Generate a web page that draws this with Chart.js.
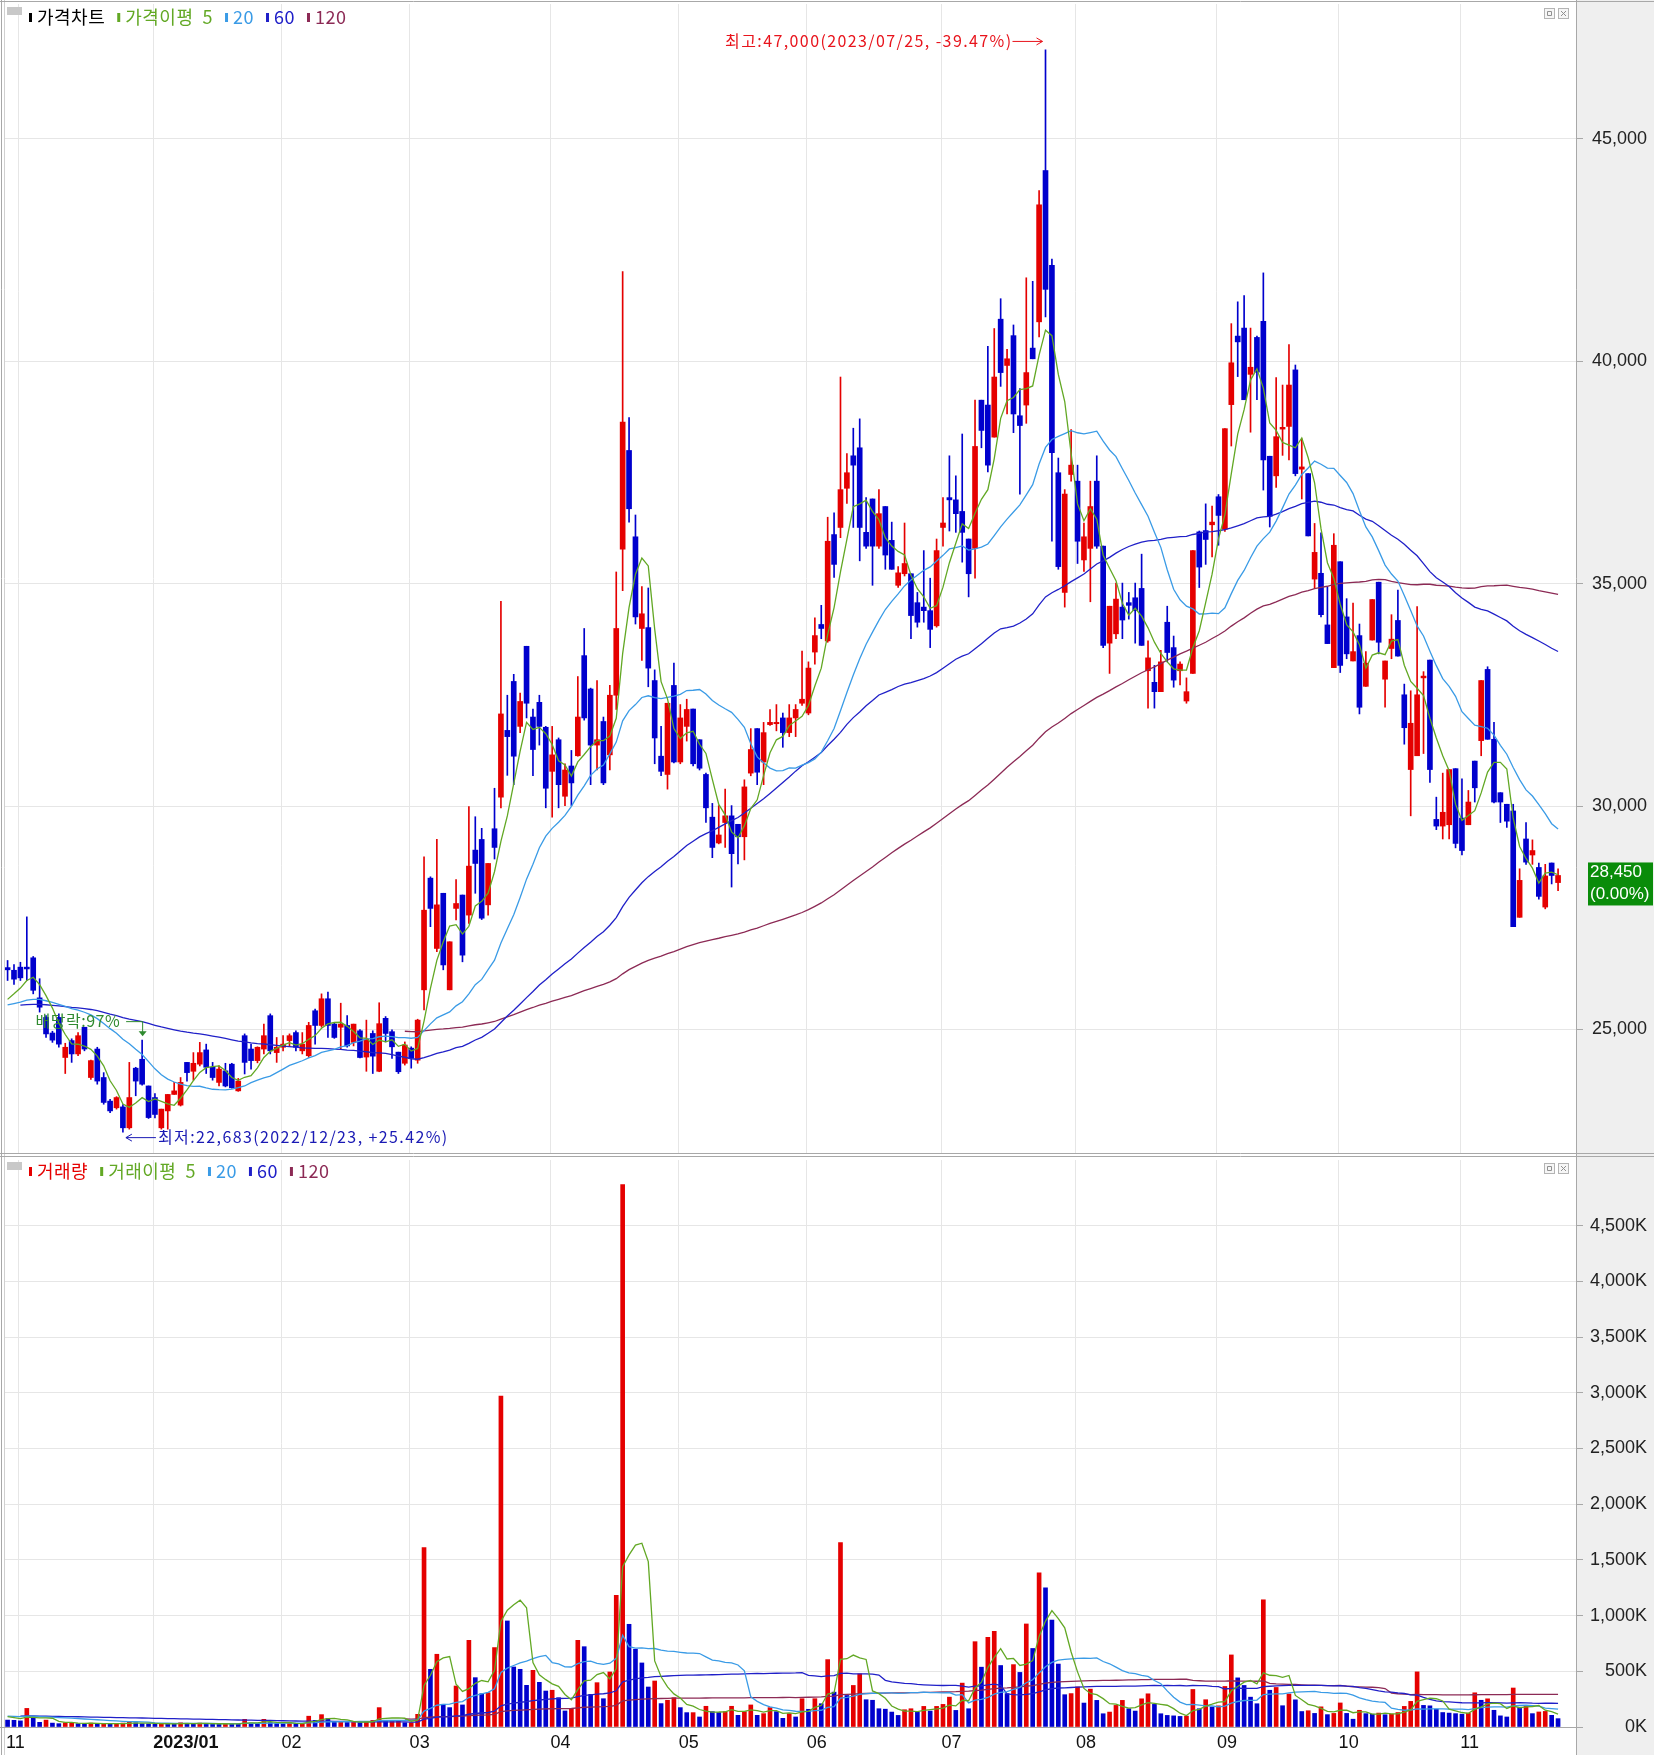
<!DOCTYPE html>
<html>
<head>
<meta charset="utf-8">
<script src="https://cdn.jsdelivr.net/npm/chart.js@4.4.1/dist/chart.umd.min.js"></script>
<style>
  html, body { margin: 0; padding: 0; background: #fff; }
  #wrap { position: relative; width: 1654px; height: 1755px; overflow: hidden; }
  #price { position: absolute; left: 0; top: 0; }
  #volume { position: absolute; left: 0; top: 1157px; }
</style>
</head>
<body>
<div id="wrap">
  <canvas id="price" width="1654" height="1157"></canvas>
  <canvas id="volume" width="1654" height="598"></canvas>
</div>
<script>
// trading calendar shown on the chart
const months = ['2022/11', '2022/12', '2023/01', '2023/02', '2023/03', '2023/04', '2023/05',
  '2023/06', '2023/07', '2023/08', '2023/09', '2023/10', '2023/11']
const tradingDays = [
  [29, 30],
  [1, 2, 5, 6, 7, 8, 9, 12, 13, 14, 15, 16, 19, 20, 21, 22, 23, 26, 27, 28, 29],
  [2, 3, 4, 5, 6, 9, 10, 11, 12, 13, 16, 17, 18, 19, 20, 25, 26, 27, 30, 31],
  [1, 2, 3, 6, 7, 8, 9, 10, 13, 14, 15, 16, 17, 20, 21, 22, 23, 24, 27, 28],
  [2, 3, 6, 7, 8, 9, 10, 13, 14, 15, 16, 17, 20, 21, 22, 23, 24, 27, 28, 29, 30, 31],
  [3, 4, 5, 6, 7, 10, 11, 12, 13, 14, 17, 18, 19, 20, 21, 24, 25, 26, 27, 28],
  [2, 3, 4, 8, 9, 10, 11, 12, 15, 16, 17, 18, 19, 22, 23, 24, 25, 26, 30, 31],
  [1, 2, 5, 7, 8, 9, 12, 13, 14, 15, 16, 19, 20, 21, 22, 23, 26, 27, 28, 29, 30],
  [3, 4, 5, 6, 7, 10, 11, 12, 13, 14, 17, 18, 19, 20, 21, 24, 25, 26, 27, 28, 31],
  [1, 2, 3, 4, 7, 8, 9, 10, 11, 14, 16, 17, 18, 21, 22, 23, 24, 25, 28, 29, 30, 31],
  [1, 4, 5, 6, 7, 8, 11, 12, 13, 14, 15, 18, 19, 20, 21, 22, 25, 26, 27],
  [4, 5, 6, 10, 11, 12, 13, 16, 17, 18, 19, 20, 23, 24, 25, 26, 27, 30, 31],
  [1, 2, 3, 6, 7, 8, 9, 10, 13, 14, 15, 16, 17, 20, 21, 22]
]
const monthLabels = ['11', '', '2023/01', '02', '03', '04', '05', '06', '07', '08', '09', '10', '11']

const opens = [
  26380, 26320, 26390, 26390, 26600, 25700, 25260, 24910, 25260, 24360,
  24740, 24440, 25040, 23910, 24550, 23910, 23380, 23230, 23250, 22780,
  24120, 24320, 23720, 23460, 22780, 23160, 23530, 23290, 24250, 24050,
  24210, 24530, 24140, 23800, 24060, 24210, 23610, 24850, 24550, 24290,
  24550, 25300, 24470, 24590, 24740, 24920, 24510, 24400, 25410, 25080,
  25680, 25110, 25040, 25080, 24700, 24960, 24370, 24900, 24050, 25240,
  24940, 24480, 24230, 24570, 24300, 25880, 28390, 26810, 28050, 25880,
  27710, 28010, 27560, 29020, 29260, 27790, 29500, 30210, 31710, 32810,
  31800, 33600, 32010, 32340, 31780, 30790, 31500, 30230, 30910, 31140,
  33390, 32640, 31380, 31910, 31160, 32500, 35780, 38000, 36060, 34000,
  34020, 32830, 31130, 30720, 32720, 31000, 31800, 32190, 31500, 30720,
  29760, 29180, 29640, 29790, 29600, 29320, 30750, 31750, 31000, 31840,
  31860, 31990, 31660, 31990, 32320, 32100, 33470, 34090, 33720, 36110,
  36270, 37150, 37880, 38060, 36160, 36910, 35850, 36740, 35980, 34970,
  35230, 35230, 34580, 34480, 34400, 34060, 36270, 36940, 36890, 36630,
  36010, 35800, 39130, 39020, 38300, 40950, 39910, 40580, 38780, 39020,
  40300, 40890, 44290, 42160, 37500, 34810, 37460, 37310, 35540, 35800,
  37310, 35850, 33670, 33880, 34480, 34580, 34690, 34900, 33050, 32790,
  32580, 34140, 33570, 33050, 32370, 32990, 36170, 36200, 36330, 36960,
  36230, 39030, 40570, 40750, 39710, 40540, 40900, 37870, 37430, 38480,
  38540, 39810, 37580, 37480, 35110, 35240, 34080, 33120, 35500, 34260,
  33270, 33840, 32700, 33740, 35040, 32860, 33550, 34180, 32510, 30830,
  31140, 32890, 33290, 29710, 29560, 29590, 30850, 29740, 29590, 31020,
  31480, 33080, 31510, 30310, 30050, 29900, 27510, 29270, 28910, 28630,
  27740, 28730, 28290
]
const highs = [
  26540, 26450, 26500, 27520, 26630, 26130, 25300, 24950, 25340, 24680,
  24780, 24920, 25040, 24300, 24590, 24020, 23420, 23480, 23300, 24250,
  24140, 24750, 23720, 23550, 23200, 23530, 23800, 23910, 24250, 24470,
  24700, 24660, 24250, 24170, 24230, 24230, 23890, 24890, 24660, 24600,
  25110, 25340, 24810, 24850, 24890, 24960, 24920, 25150, 25450, 25790,
  25830, 25150, 25580, 25300, 25110, 24990, 25200, 24960, 25590, 25280,
  24980, 24480, 24710, 24600, 25220, 28870, 28420, 29260, 28050, 26960,
  28360, 28010, 30000, 29770, 29510, 28720, 30410, 34610, 32500, 32970,
  32550, 33600, 32190, 32500, 31800, 31800, 31540, 30960, 31260, 32920,
  34000, 32660, 32830, 32010, 32720, 35270, 42020, 38740, 36550, 34940,
  34910, 33070, 31800, 32320, 33220, 32290, 32410, 32190, 31500, 30750,
  30070, 30020, 30390, 30020, 29600, 30600, 31750, 31750, 31890, 32180,
  32290, 32100, 32290, 32290, 33490, 33250, 34240, 34520, 36500, 36600,
  39650, 37930, 38500, 38710, 36940, 36910, 37120, 36740, 36390, 35390,
  36370, 35230, 34810, 35750, 35130, 36010, 36940, 37880, 37430, 38370,
  36010, 39130, 39130, 40340, 40740, 41410, 40270, 40820, 39390, 41880,
  41800, 43840, 47000, 42300, 37830, 37120, 38470, 37670, 36370, 37310,
  37880, 35850, 34500, 35020, 35020, 34810, 35020, 35670, 33720, 33170,
  33510, 34500, 33830, 33250, 32890, 35750, 36190, 36800, 36750, 37010,
  38490, 40850, 41340, 41480, 40750, 40570, 41990, 37870, 39640, 39470,
  40380, 39920, 38260, 37480, 36360, 36150, 34930, 36130, 35500, 34670,
  34570, 34100, 33480, 34650, 35040, 33270, 34310, 34860, 32750, 32600,
  34490, 33030, 33290, 30210, 30750, 30830, 30850, 30620, 30360, 31020,
  32830, 33140, 31890, 30310, 30050, 30050, 28600, 29640, 29250, 28730,
  28700, 28730, 28600
]
const lows = [
  26090, 26000, 26090, 26090, 25790, 25380, 24810, 24700, 24590, 24000,
  24250, 24400, 24510, 23870, 23760, 23310, 23120, 23200, 22683, 22750,
  23500, 23740, 22990, 23000, 22750, 22750, 23530, 23270, 23830, 23850,
  24170, 24000, 23850, 23720, 23700, 23670, 23600, 23990, 24100, 24240,
  24440, 24440, 24250, 24510, 24620, 24510, 24440, 24360, 24660, 25040,
  24810, 24790, 24550, 24590, 24620, 24350, 24050, 24000, 24040, 24710,
  24340, 24000, 24190, 24120, 24230, 25430, 27300, 26740, 26330, 25880,
  27450, 26510, 27370, 28050, 27460, 27560, 28820, 29970, 30700, 30490,
  31660, 31990, 30690, 31380, 29970, 29760, 29970, 30020, 30020, 31130,
  31940, 30490, 30820, 30490, 30820, 32180, 34850, 36390, 34100, 33280,
  32690, 30960, 30690, 30390, 30980, 30960, 31470, 30910, 30820, 29640,
  28850, 29160, 29080, 28190, 28710, 28800, 30690, 30490, 30490, 31820,
  31700, 31330, 31570, 31570, 32270, 32060, 33200, 33770, 33690, 35150,
  36040, 36810, 36270, 35520, 35800, 34970, 35800, 35330, 35330, 34920,
  35180, 33770, 34030, 34140, 33570, 34030, 35850, 36190, 36160, 35490,
  34710, 35130, 38060, 37520, 38300, 39440, 38820, 38400, 37020, 38610,
  40060, 40550, 41000, 35960, 35330, 34480, 37310, 35460, 35280, 34600,
  35800, 33570, 32990, 33770, 33770, 34210, 33670, 33620, 32210, 32210,
  32580, 33250, 32680, 32730, 32320, 32990, 34920, 35440, 35610, 35870,
  36180, 38100, 39660, 39140, 38410, 39140, 37110, 36280, 37170, 37890,
  37790, 37430, 36910, 36080, 34900, 34260, 33660, 33120, 33010, 33320,
  33270, 32080, 32700, 33740, 33430, 32230, 33320, 33380, 31400, 29790,
  31140, 31190, 30540, 29480, 29270, 29270, 29070, 28910, 29590, 30100,
  31140, 31510, 30080, 29640, 29530, 27300, 27510, 28700, 28700, 27920,
  27700, 28260, 28110
]
const closes = [
  26330, 26120, 26150, 26350, 25870, 25490, 24890, 24750, 24660, 24590,
  24440, 24850, 24550, 24290, 23830, 23350, 23160, 23460, 22780, 23460,
  23830, 23760, 23010, 23080, 23200, 23530, 23610, 23800, 24020, 24230,
  24470, 24140, 23910, 24100, 23720, 23680, 23830, 24250, 24290, 24590,
  24850, 24510, 24590, 24660, 24850, 24590, 24660, 25080, 25080, 25680,
  25080, 24810, 25110, 24620, 25110, 24360, 24780, 24390, 25120, 24900,
  24600, 24040, 24640, 24340, 25200, 27670, 27710, 27790, 26440, 26960,
  27820, 26660, 28660, 28720, 27490, 28720, 29080, 32080, 31570, 31130,
  32360, 32320, 31280, 31800, 30410, 31160, 30490, 30820, 30530, 32010,
  31990, 31380, 31500, 30530, 32500, 34000, 38640, 36690, 34260, 34330,
  33110, 31540, 30790, 32320, 31000, 31990, 32180, 30960, 30860, 29970,
  29080, 29360, 29790, 28940, 29320, 30440, 31280, 30770, 31660, 31890,
  31890, 31660, 31990, 32180, 32410, 33110, 33840, 34000, 35960, 35440,
  37120, 37500, 37670, 36270, 35850, 35850, 36580, 35650, 35330, 35250,
  35460, 34290, 34140, 34400, 33980, 35750, 36370, 36890, 36580, 36160,
  35230, 38090, 38450, 37670, 39650, 39750, 40060, 38820, 38560, 39750,
  40060, 43520, 41620, 37950, 35390, 37020, 37670, 35960, 36060, 36740,
  35850, 33620, 34500, 34660, 34190, 34520, 34400, 33620, 33340, 32580,
  33250, 33460, 32840, 33200, 32580, 35750, 35380, 36000, 36390, 36540,
  38490, 39970, 40440, 39140, 39870, 39760, 37790, 36520, 38310, 38520,
  39470, 37480, 37630, 36080, 35710, 34310, 33660, 35870, 33170, 33430,
  33480, 32230, 33220, 34650, 33690, 33270, 33760, 33380, 31770, 31870,
  32510, 32930, 30830, 29560, 29870, 30830, 29170, 29010, 30100, 30420,
  32830, 31510, 30100, 30100, 29670, 27300, 28340, 28750, 29010, 27980,
  28440, 28450, 28450
]
// volume in thousands of shares
const volumes = [
  62, 60, 55, 167, 87, 42, 62, 35, 30, 38,
  40, 30, 28, 35, 30, 32, 25, 30, 35, 45,
  38, 30, 28, 25, 32, 30, 28, 38, 30, 28,
  35, 30, 28, 25, 30, 28, 26, 69, 35, 30,
  69, 40, 30, 28, 35, 30, 32, 97, 60, 111,
  76, 45, 50, 40, 45, 40, 50, 60, 174, 60,
  60, 60, 39, 39, 114, 1611, 518, 653, 204, 174,
  368, 198, 778, 443, 299, 308, 713, 2971, 952, 539,
  518, 374, 509, 401, 323, 330, 263, 144, 165, 778,
  721, 293, 398, 254, 494, 1183, 4870, 922, 698, 575,
  359, 413, 210, 240, 263, 174, 129, 129, 90, 186,
  138, 130, 138, 186, 105, 138, 198, 105, 120, 174,
  138, 78, 120, 90, 254, 159, 254, 209, 605, 313,
  1655, 283, 373, 477, 245, 240, 164, 160, 134, 104,
  155, 164, 134, 185, 143, 185, 203, 268, 149, 394,
  164, 766, 537, 805, 859, 552, 300, 560, 490, 925,
  705, 1385, 1250, 960, 565, 290, 300, 360, 215, 340,
  239, 119, 134, 194, 239, 164, 143, 253, 298, 203,
  119, 104, 100, 95, 98, 337, 164, 245, 179, 190,
  364, 647, 441, 373, 268, 209, 1142, 330, 355, 191,
  296, 244, 139, 146, 122, 181, 111, 122, 216, 122,
  70, 150, 120, 115, 125, 110, 115, 130, 185, 230,
  495, 194, 190, 160, 130, 125, 120, 115, 125, 307,
  240, 253, 150, 100, 90, 350, 175, 185, 120, 135,
  140, 105, 75
]
const priceTicks = [25000, 30000, 35000, 40000, 45000]
const volumeTicks = [0, 500, 1000, 1500, 2000, 2500, 3000, 3500, 4000, 4500]
const maPeriods = [5, 20, 60, 120]
const dividendDate = '2022/12/28'
const dividendText = '배당락:97%'

// history before the first visible day (only feeds the moving averages)
const priorDays = 57
const priorClose = 25500
const priorVolume = 100

const UP = '#e50000'
const DOWN = '#0000cd'
const maColors = ['#62a824', '#3a9be6', '#2020c8', '#8c2a55']

const dates = months.flatMap((m, k) => tradingDays[k].map(d => m + '/' + String(d).padStart(2, '0')))
const n = closes.length
let monthStarts = []
let pos = 0
tradingDays.forEach(days => { monthStarts.push(pos); pos += days.length })

function movingAverage(values, len, prior) {
  const full = new Array(priorDays).fill(prior).concat(values)
  return values.map((_, i) => {
    const end = i + priorDays
    if (end + 1 < len) return null
    let s = 0
    for (let k = end - len + 1; k <= end; k++) s += full[k]
    return s / len
  })
}

const fmt = v => v.toLocaleString('en-US')
const candleColor = closes.map((c, i) => c >= opens[i] ? UP : DOWN)
const volColor = volumes.map((v, i) => i > 0 && v >= volumes[i - 1] ? UP : DOWN)

const X_MIN = -0.56
const X_MAX = 244.8

function monthTickBuilder(scale) {
  scale.ticks = monthStarts.map(i => ({ value: i - 0.25 }))
}
function noPad(scale) {
  scale.paddingTop = 0; scale.paddingBottom = 0; scale.paddingLeft = 0; scale.paddingRight = 0
}

function maDatasets(values, prior) {
  return maPeriods.map((p, k) => {
    const ma = movingAverage(values, p, prior)
    return {
      type: 'line',
      data: ma.map((y, i) => ({ x: i, y: y })),
      borderColor: maColors[k],
      borderWidth: 1.3,
      pointRadius: 0,
      tension: 0,
      order: 0
    }
  })
}

const framePlugin = {
  id: 'frame',
  beforeDraw(chart) {
    const { ctx, chartArea, width, height } = chart
    ctx.save()
    ctx.fillStyle = '#ffffff'
    ctx.fillRect(0, 0, width, height)
    ctx.fillStyle = '#efefef'
    ctx.fillRect(chartArea.right, 0, width - chartArea.right, height)
    ctx.restore()
  },
  afterDraw(chart) {
    const { ctx, chartArea, width, height } = chart
    ctx.save()
    ctx.lineWidth = 1
    ctx.strokeStyle = '#a8a8a8'
    ctx.beginPath()
    ctx.moveTo(chartArea.right + 0.5, 0); ctx.lineTo(chartArea.right + 0.5, height)
    ctx.moveTo(1.5, 0); ctx.lineTo(1.5, height)
    ctx.stroke()
    ctx.strokeStyle = '#d0d0d0'
    ctx.beginPath()
    ctx.moveTo(4.5, 0); ctx.lineTo(4.5, height)
    ctx.stroke()
    ctx.strokeStyle = '#a8a8a8'
    ctx.beginPath()
    if (chart.canvas.id === 'price') {
      ctx.moveTo(0, 1.5); ctx.lineTo(width, 1.5)
      ctx.moveTo(0, height - 3.5); ctx.lineTo(width, height - 3.5)
      ctx.moveTo(0, height - 0.5); ctx.lineTo(width, height - 0.5)
    } else {
      ctx.moveTo(0, chartArea.bottom + 0.5); ctx.lineTo(chartArea.right, chartArea.bottom + 0.5)
    }
    ctx.stroke()
    // little window buttons at the top right of the panel
    const by = chart.canvas.id === 'price' ? 8 : 6
    ;[chartArea.right - 32, chartArea.right - 18].forEach((bx, k) => {
      ctx.fillStyle = '#f6f6f6'
      ctx.fillRect(bx, by, 11, 11)
      ctx.strokeStyle = '#b4b4b4'
      ctx.strokeRect(bx + 0.5, by + 0.5, 10, 10)
      ctx.strokeStyle = '#909090'
      ctx.beginPath()
      if (k === 0) {
        ctx.rect(bx + 3.5, by + 3.5, 4, 4)
      } else {
        ctx.moveTo(bx + 3, by + 3); ctx.lineTo(bx + 8, by + 8)
        ctx.moveTo(bx + 8, by + 3); ctx.lineTo(bx + 3, by + 8)
      }
      ctx.stroke()
    })
    // grey box at the top left
    ctx.fillStyle = '#c8c8c8'
    ctx.fillRect(7, by - 1, 15, 8)
    ctx.restore()
  }
}

function drawLegend(ctx, y, items) {
  ctx.save()
  ctx.font = '18px "Noto Sans CJK KR"'
  ctx.textBaseline = 'middle'
  ctx.textAlign = 'left'
  ctx.letterSpacing = '0.5px'
  let x = 29
  items.forEach(it => {
    ctx.fillStyle = it.bar
    ctx.fillRect(x, y - 4, 3, 9)
    x += 8
    ctx.fillStyle = it.color
    ctx.fillText(it.text, x, y)
    x += ctx.measureText(it.text).width + 12
  })
  ctx.restore()
}

function arrowLine(ctx, x1, x2, y, color) {
  ctx.strokeStyle = color
  ctx.lineWidth = 1
  ctx.beginPath()
  ctx.moveTo(x1, y + 0.5); ctx.lineTo(x2, y + 0.5)
  const d = x2 > x1 ? -1 : 1
  ctx.moveTo(x2, y + 0.5); ctx.lineTo(x2 + d * 6, y - 3)
  ctx.moveTo(x2, y + 0.5); ctx.lineTo(x2 + d * 6, y + 4)
  ctx.stroke()
}

const priceDecor = {
  id: 'priceDecor',
  afterDatasetsDraw(chart) {
    const { ctx } = chart
    const xs = chart.scales.x, ys = chart.scales.y
    const last = closes[n - 1]
    ctx.save()
    ctx.font = '16px "Noto Sans CJK KR"'
    ctx.letterSpacing = '1.4px'
    ctx.textBaseline = 'middle'

    // highest point
    const hiVal = Math.max(...highs)
    const hi = highs.indexOf(hiVal)
    const hx = xs.getPixelForValue(hi), hy = ys.getPixelForValue(hiVal) - 9
    const hiPct = ((last - hiVal) / hiVal * 100).toFixed(2)
    ctx.fillStyle = '#e8141c'
    ctx.textAlign = 'right'
    ctx.fillText('최고:' + fmt(hiVal) + '(' + dates[hi] + ', ' + hiPct + '%)', hx - 33, hy)
    arrowLine(ctx, hx - 33, hx - 3, hy, '#e8141c')

    // lowest point
    const loVal = Math.min(...lows)
    const lo = lows.indexOf(loVal)
    const lx = xs.getPixelForValue(lo), ly = ys.getPixelForValue(loVal) + 5
    const loPct = ((last - loVal) / loVal * 100).toFixed(2)
    ctx.fillStyle = '#1a1ab4'
    ctx.textAlign = 'left'
    ctx.fillText('최저:' + fmt(loVal) + '(' + dates[lo] + ', +' + loPct + '%)', lx + 35, ly)
    arrowLine(ctx, lx + 33, lx + 3, ly, '#1a1ab4')

    // ex-dividend marker
    const dv = dates.indexOf(dividendDate)
    const dx = xs.getPixelForValue(dv), dTop = ys.getPixelForValue(highs[dv])
    const dy = dTop - 19
    ctx.fillStyle = '#2f8a2f'
    ctx.textAlign = 'right'
    ctx.letterSpacing = '0.5px'
    ctx.fillText(dividendText, dx - 22, dy)
    ctx.strokeStyle = '#2f8a2f'
    ctx.beginPath()
    ctx.moveTo(dx - 16, dy + 0.5); ctx.lineTo(dx + 0.5, dy + 0.5); ctx.lineTo(dx + 0.5, dTop - 5)
    ctx.stroke()
    ctx.fillStyle = '#2f8a2f'
    ctx.beginPath()
    ctx.moveTo(dx - 3.5, dTop - 9); ctx.lineTo(dx + 4.5, dTop - 9); ctx.lineTo(dx + 0.5, dTop - 4)
    ctx.closePath(); ctx.fill()
    ctx.restore()
  },
  afterDraw(chart) {
    const { ctx, chartArea } = chart
    const ys = chart.scales.y
    drawLegend(ctx, 17, [
      { bar: '#000000', color: '#000000', text: '가격차트' },
      { bar: maColors[0], color: maColors[0], text: '가격이평  5' },
      { bar: maColors[1], color: maColors[1], text: '20' },
      { bar: maColors[2], color: maColors[2], text: '60' },
      { bar: maColors[3], color: maColors[3], text: '120' }
    ])
    // current price box
    const last = closes[n - 1], prev = closes[n - 2]
    const pct = ((last - prev) / prev * 100).toFixed(2)
    const yc = ys.getPixelForValue(last)
    ctx.save()
    ctx.fillStyle = '#0a8c0a'
    ctx.fillRect(chartArea.right + 12, yc - 13, 65, 43)
    ctx.fillStyle = '#ffffff'
    ctx.font = '17px "Liberation Sans"'
    ctx.textBaseline = 'middle'
    ctx.textAlign = 'left'
    ctx.fillText(fmt(last), chartArea.right + 14, yc - 3)
    ctx.fillText('(' + pct + '%)', chartArea.right + 14, yc + 19)
    ctx.restore()
  }
}

const volumeDecor = {
  id: 'volumeDecor',
  afterDraw(chart) {
    drawLegend(chart.ctx, 14, [
      { bar: UP, color: UP, text: '거래량' },
      { bar: maColors[0], color: maColors[0], text: '거래이평  5' },
      { bar: maColors[1], color: maColors[1], text: '20' },
      { bar: maColors[2], color: maColors[2], text: '60' },
      { bar: maColors[3], color: maColors[3], text: '120' }
    ])
  }
}

const gridColor = ctx => ctx.index === 0 ? 'rgba(0,0,0,0)' : '#e6e6e6'

new Chart(document.getElementById('price').getContext('2d'), {
  data: {
    datasets: [
      ...maDatasets(closes, priorClose),
      {
        type: 'bar',
        data: closes.map((c, i) => ({ x: i, y: [Math.min(opens[i], c), Math.max(opens[i], c)] })),
        backgroundColor: candleColor,
        barThickness: 5,
        minBarLength: 1,
        grouped: false,
        order: 1
      },
      {
        type: 'bar',
        data: closes.map((c, i) => ({ x: i, y: [lows[i], highs[i]] })),
        backgroundColor: candleColor,
        barThickness: 1,
        grouped: false,
        order: 2
      }
    ]
  },
  options: {
    responsive: false,
    animation: false,
    events: [],
    layout: { padding: { left: 4, top: 4, right: 7, bottom: 4 } },
    plugins: { legend: { display: false }, tooltip: { enabled: false } },
    scales: {
      x: {
        type: 'linear', min: X_MIN, max: X_MAX, offset: false,
        afterBuildTicks: monthTickBuilder,
        afterFit: s => { s.height = 0; noPad(s) },
        ticks: { display: false },
        grid: { color: gridColor, drawTicks: false, offset: false },
        border: { display: false }
      },
      y: {
        position: 'right', min: 22214, max: 48032,
        afterBuildTicks: s => { s.ticks = priceTicks.map(v => ({ value: v })) },
        afterFit: s => { s.width = 71; noPad(s) },
        ticks: {
          callback: v => fmt(v),
          font: { family: 'Liberation Sans', size: 18 },
          color: '#222222', padding: 2, crossAlign: 'far'
        },
        grid: { color: '#e6e6e6', tickLength: 7, tickColor: '#a8a8a8' },
        border: { display: false }
      }
    }
  },
  plugins: [framePlugin, priceDecor]
})

new Chart(document.getElementById('volume').getContext('2d'), {
  data: {
    datasets: [
      ...maDatasets(volumes, priorVolume),
      {
        type: 'bar',
        data: volumes.map((v, i) => ({ x: i, y: v })),
        backgroundColor: volColor,
        barThickness: 4,
        grouped: false,
        order: 1
      }
    ]
  },
  options: {
    responsive: false,
    animation: false,
    events: [],
    layout: { padding: { left: 4, top: 3, right: 7, bottom: 0 } },
    plugins: { legend: { display: false }, tooltip: { enabled: false } },
    scales: {
      x: {
        type: 'linear', min: X_MIN, max: X_MAX, offset: false,
        afterBuildTicks: monthTickBuilder,
        afterFit: s => { s.height = 28; noPad(s) },
        ticks: {
          autoSkip: false, maxRotation: 0, minRotation: 0, align: 'start', padding: 5,
          callback: (v, i) => monthLabels[i],
          color: '#111111',
          font: ctx => ({ family: 'Liberation Sans', size: 18, weight: ctx.tick && ctx.tick.label === '2023/01' ? 'bold' : 'normal' })
        },
        grid: { color: gridColor, drawTicks: false, offset: false },
        border: { display: false }
      },
      y: {
        position: 'right', min: 0, max: 5090,
        afterBuildTicks: s => { s.ticks = volumeTicks.map(v => ({ value: v })) },
        afterFit: s => { s.width = 71; noPad(s) },
        ticks: {
          callback: v => fmt(v) + 'K',
          font: { family: 'Liberation Sans', size: 18 },
          color: '#222222', padding: 0, crossAlign: 'far'
        },
        grid: { color: '#e6e6e6', tickLength: 7, tickColor: '#a8a8a8' },
        border: { display: false }
      }
    }
  },
  plugins: [framePlugin, volumeDecor]
})
</script>
</body>
</html>
